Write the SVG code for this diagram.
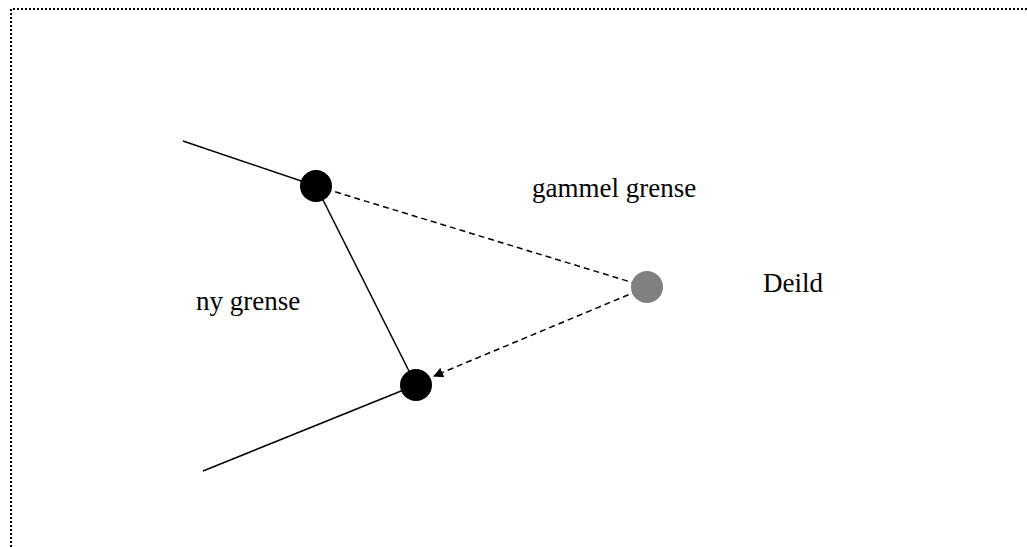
<svg xmlns="http://www.w3.org/2000/svg" width="1027" height="547" viewBox="0 0 1027 547">
<style>
.t{font-family:"Liberation Serif","Times New Roman",serif;font-size:27px;fill:#000}
.ln{stroke:#000;stroke-width:1.5;fill:none}
.ds{stroke:#000;stroke-width:1.5;fill:none;stroke-dasharray:6,4}
.brd{stroke:#000;stroke-width:2;fill:none;stroke-dasharray:2,2}
</style>
<defs>
<marker id="ah" markerWidth="10" markerHeight="10" refX="9" refY="5" orient="auto" markerUnits="userSpaceOnUse">
<path d="M0,0 L10,5 L0,10 z" fill="#000"/>
</marker>
</defs>
<path class="brd" d="M11,547 L11,9 L1027,9"/>
<g id="connectors">
<line class="ln" x1="183" y1="141" x2="316" y2="186"/>
<line class="ln" x1="316" y1="186" x2="416" y2="385"/>
<line class="ln" x1="203" y1="471" x2="416" y2="385"/>
<line class="ds" x1="316" y1="186" x2="647" y2="287"/>
<line class="ds" x1="647" y1="287" x2="434" y2="376" marker-end="url(#ah)"/>
</g>
<g id="node-top"><circle cx="316" cy="186" r="16" fill="#000"/></g>
<g id="node-bottom"><circle cx="416" cy="385" r="16" fill="#000"/></g>
<g id="node-deild"><circle cx="647" cy="287" r="16" fill="#808080"/></g>
<g id="labels">
<text class="t" x="532" y="197">gammel grense</text>
<text class="t" x="196" y="310">ny grense</text>
<text class="t" x="763" y="292">Deild</text>
</g>
</svg>
